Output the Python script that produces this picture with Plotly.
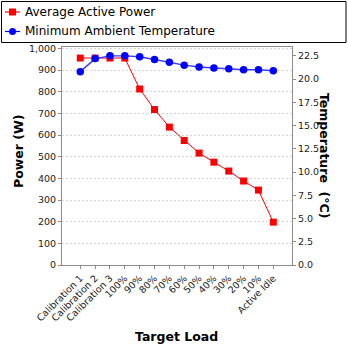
import plotly.graph_objects as go

# ---- data ----
categories = ["Calibration 1", "Calibration 2", "Calibration 3", "100%", "90%", "80%",
              "70%", "60%", "50%", "40%", "30%", "20%", "10%", "Active Idle"]
power_w = [956, 956, 956, 956, 813, 718, 637, 575, 517, 475, 434, 388, 346, 198]
temp_c = [20.8, 22.2, 22.5, 22.5, 22.4, 22.1, 21.8, 21.5, 21.3, 21.2, 21.1, 21.0, 21.0, 20.9]
power_ticks = list(range(0, 1001, 100))
temp_ticks = [0.0, 2.5, 5.0, 7.5, 10.0, 12.5, 15.0, 17.5, 20.0, 22.5]
series_names = ["Average Active Power", "Minimum Ambient Temperature"]
series_colors = ["#ff0000", "#0000ff"]

# ---- layout geometry (pixels) ----
W, H = 348, 348
ML, MR, MT, MB = 62, 56, 47, 83
PW, PH = W - ML - MR, H - MT - MB
FONT = "DejaVu Sans"
AXIS_GREY = "#8c8c8c"


def px_x(x):
    return (x - ML) / PW


def px_y(y):
    return (H - MB - y) / PH


fig = go.Figure()
fig.add_trace(go.Scatter(
    x=categories, y=power_w, name=series_names[0], mode="lines+markers",
    line=dict(color=series_colors[0], width=1),
    marker=dict(symbol="square", size=7, color=series_colors[0]),
    yaxis="y", showlegend=False))
fig.add_trace(go.Scatter(
    x=categories, y=temp_c, name=series_names[1], mode="lines+markers",
    line=dict(color="#3a3aff", width=1.4),
    marker=dict(symbol="circle", size=7.5, color=series_colors[1]),
    yaxis="y2", showlegend=False))

tick_font = dict(family=FONT, size=9.5, color="#222222")
title_font = dict(family=FONT, size=12.5, color="#000000")

fig.update_layout(
    width=W, height=H,
    margin=dict(l=ML, r=MR, t=MT, b=MB, pad=0),
    paper_bgcolor="white", plot_bgcolor="white",
    xaxis=dict(
        type="category", range=[-1.23, 14.26],
        tickangle=-45, tickfont=tick_font,
        showline=True, linecolor=AXIS_GREY, linewidth=1, mirror=True,
        ticks="outside", ticklen=3, tickcolor=AXIS_GREY,
        showgrid=False, zeroline=False),
    yaxis=dict(
        range=[0, 1007], tickvals=power_ticks, tickformat=",d",
        tickfont=tick_font, showline=True, linecolor=AXIS_GREY, linewidth=1,
        ticks="outside", ticklen=3, tickcolor=AXIS_GREY,
        showgrid=True, gridcolor="#d6d6d6", gridwidth=1, griddash="2px,2px",
        zeroline=False),
    yaxis2=dict(
        range=[0, 23.45], tickvals=temp_ticks, tickformat=".1f",
        overlaying="y", side="right", anchor="x",
        tickfont=tick_font, showline=True, linecolor=AXIS_GREY, linewidth=1,
        ticks="outside", ticklen=3, tickcolor=AXIS_GREY,
        showgrid=False, zeroline=False),
    showlegend=False,
)

# axis titles
fig.add_annotation(text="<b>Power (W)</b>", xref="paper", yref="paper",
                   x=px_x(18), y=px_y(151), textangle=-90, showarrow=False,
                   font=title_font, xanchor="center", yanchor="middle")
fig.add_annotation(text="<b>Temperature  (°C)</b>", xref="paper", yref="paper",
                   x=px_x(325), y=px_y(155), textangle=90, showarrow=False,
                   font=title_font, xanchor="center", yanchor="middle")
fig.add_annotation(text="<b>Target Load</b>", xref="paper", yref="paper",
                   x=px_x(176), y=px_y(336.5), showarrow=False,
                   font=title_font, xanchor="center", yanchor="middle")

# legend box with line+marker samples
fig.add_shape(type="rect", xref="paper", yref="paper",
              x0=px_x(1.5), x1=px_x(346), y0=px_y(42.5), y1=px_y(1.5),
              line=dict(color="black", width=1), fillcolor="white", layer="above")
rows_y = [12, 31.5]
symbols = ["rect", "circle"]
for name, color, ry, sym in zip(series_names, series_colors, rows_y, symbols):
    fig.add_shape(type="line", xref="paper", yref="paper",
                  x0=px_x(5), x1=px_x(20), y0=px_y(ry), y1=px_y(ry),
                  line=dict(color=color, width=1.2), layer="above")
    fig.add_shape(type=sym, xref="paper", yref="paper",
                  x0=px_x(9), x1=px_x(16), y0=px_y(ry + 3.5), y1=px_y(ry - 3.5),
                  line=dict(color=color, width=0), fillcolor=color, layer="above")
    fig.add_annotation(text=name, xref="paper", yref="paper",
                       x=px_x(22.5), y=px_y(ry), showarrow=False,
                       xanchor="left", yanchor="middle",
                       font=dict(family=FONT, size=12, color="black"))

fig.write_html("out.html")
